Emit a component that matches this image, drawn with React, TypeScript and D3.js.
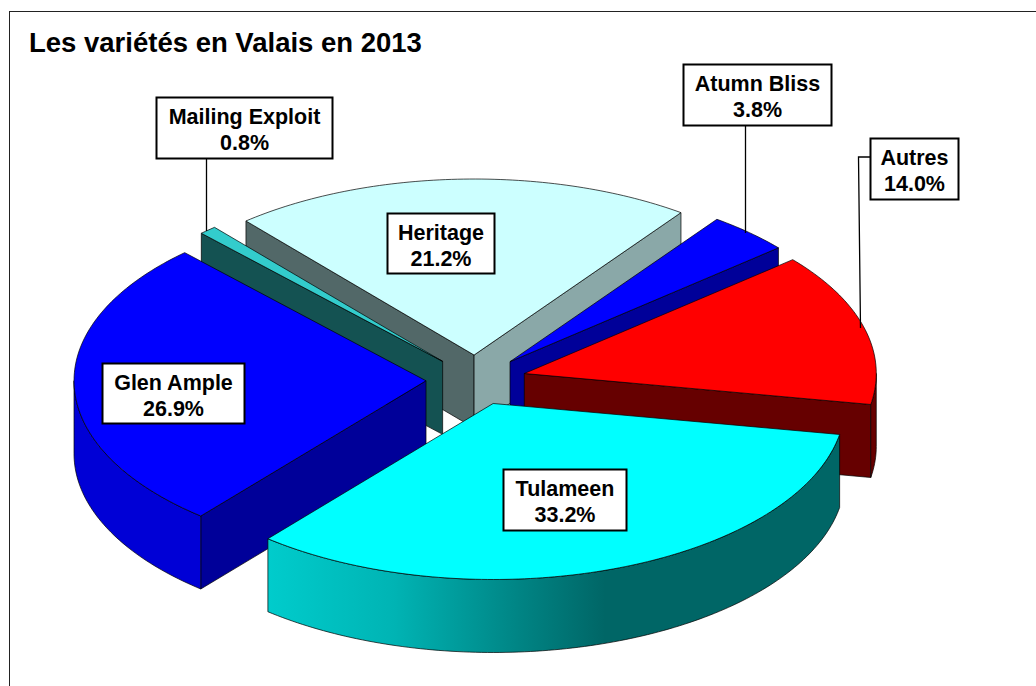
import React from "react";
import * as d3 from "d3";

const titleText = "Les variétés en Valais en 2013";
const varieties = ["Atumn Bliss", "Autres", "Tulameen", "Glen Ample", "Mailing Exploit", "Heritage"];
const shares = [3.8, 14.0, 33.2, 26.9, 0.8, 21.2];
const topColors = ["#0000ff", "#ff0000", "#00ffff", "#0000ff", "#33cccc", "#ccffff"];
const startWallColors = ["#000099", "#660000", "#006666", "#000099", "#145252", "#526868"];
const endWallColors = ["#000099", "#660000", "#006666", "#000099", "#145252", "#8aa8a8"];
const outerWallColors = ["#0000cc", "#660000", "url(#tulameenWall)", "#0000d6", "#1f9a9a", "#99cccc"];

// Outer edges of each label box: x0, y0, x1, y1 (same order as varieties)
const labelBoxes = [
  [683.5, 64.5, 831.5, 125.5],
  [870.5, 138.5, 958.5, 199.5],
  [503.5, 469.5, 626.5, 530.5],
  [102.5, 363.5, 244.5, 423.5],
  [156.5, 97.5, 332.5, 158.5],
  [387.5, 213.5, 494.5, 273.5],
];
const leaders: [number, number][][] = [
  [[745.5, 126], [745.5, 233]],
  [[870, 157], [858.5, 157], [860.5, 328]],
  [],
  [],
  [[206.5, 159], [206.5, 231]],
  [],
];

const WIDTH = 1036;
const HEIGHT = 686;
const CX = 476;
const CY = 380;
const RX = 352;
const RY = 176;
const EXPLODE = 50;
const DEPTH = 73;
const START_DEG = 36;

const rad = (d: number) => (d * Math.PI) / 180;
const line = d3.line();

function Slice({ arc, i }: { arc: d3.PieArcDatum<number>; i: number }) {
  const a0 = arc.startAngle;
  const a1 = arc.endAngle;
  const mid = (a0 + a1) / 2;
  const ox = CX + EXPLODE * Math.sin(mid);
  const oy = CY - (EXPLODE * RY * Math.cos(mid)) / RX;
  const pt = (a: number, dz = 0): [number, number] => [
    ox + RX * Math.sin(a),
    oy - RY * Math.cos(a) + dz,
  ];
  const sweep = (from: number, to: number, dz = 0) => {
    const n = Math.max(2, Math.ceil(Math.abs(to - from) / rad(1)));
    return d3.range(n + 1).map((k) => pt(from + ((to - from) * k) / n, dz));
  };
  const apex: [number, number] = [ox, oy];
  const apexLow: [number, number] = [ox, oy + DEPTH];

  const startVisible = Math.cos(a0 - Math.PI / 2) < 0;
  const endVisible = Math.cos(a1 + Math.PI / 2) < 0;
  const frontA = Math.max(a0, Math.PI / 2);
  const frontB = Math.min(a1, (3 * Math.PI) / 2);
  const hasFront = frontB > frontA;
  const stroke = { stroke: "#000", strokeWidth: 0.7, strokeLinejoin: "round" as const };

  return (
    <g>
      {startVisible && (
        <path
          d={line([apex, pt(a0), pt(a0, DEPTH), apexLow])! + "Z"}
          fill={startWallColors[i]}
          {...stroke}
        />
      )}
      {endVisible && (
        <path
          d={line([apex, pt(a1), pt(a1, DEPTH), apexLow])! + "Z"}
          fill={endWallColors[i]}
          {...stroke}
        />
      )}
      {hasFront && (
        <path
          d={line([...sweep(frontA, frontB), ...sweep(frontB, frontA, DEPTH)])! + "Z"}
          fill={outerWallColors[i]}
          {...stroke}
        />
      )}
      <path d={line([apex, ...sweep(a0, a1)])! + "Z"} fill={topColors[i]} {...stroke} />
    </g>
  );
}

export default function App() {
  const pie = d3
    .pie<number>()
    .sort(null)
    .startAngle(rad(START_DEG))
    .endAngle(rad(START_DEG + 360));
  const arcs = pie(shares);
  const order = d3
    .range(arcs.length)
    .sort(
      (a, b) =>
        -Math.cos((arcs[a].startAngle + arcs[a].endAngle) / 2) +
        Math.cos((arcs[b].startAngle + arcs[b].endAngle) / 2)
    );
  const font = "'Liberation Sans', Arial, sans-serif";

  return (
    <svg
      width={WIDTH}
      height={HEIGHT}
      style={{ position: "absolute", left: 0, top: 0, display: "block" }}
      fontFamily={font}
    >
      <defs>
        <linearGradient id="tulameenWall" x1="0" x2="1" y1="0" y2="0">
          <stop offset="0" stopColor="#00cccc" />
          <stop offset="0.22" stopColor="#00b4b4" />
          <stop offset="0.44" stopColor="#008484" />
          <stop offset="0.59" stopColor="#006666" />
          <stop offset="1" stopColor="#006666" />
        </linearGradient>
      </defs>
      <rect width={WIDTH} height={HEIGHT} fill="#fff" />
      <rect x={9.5} y={11.5} width={WIDTH + 20} height={HEIGHT + 20} fill="none" stroke="#222" strokeWidth={1} />
      <text x={29} y={52} fontSize={27.5} fontWeight="bold" fill="#000">
        {titleText}
      </text>
      {order.map((i) => (
        <Slice key={varieties[i]} arc={arcs[i]} i={i} />
      ))}
      {leaders.map(
        (pts, i) =>
          pts.length > 0 && (
            <path key={i} d={line(pts)!} fill="none" stroke="#000" strokeWidth={1.3} />
          )
      )}
      {varieties.map((name, i) => {
        const [x0, y0, x1, y1] = labelBoxes[i];
        const xc = (x0 + x1) / 2;
        return (
          <g key={name}>
            <rect x={x0} y={y0} width={x1 - x0} height={y1 - y0} fill="#fff" stroke="#000" strokeWidth={2} />
            <text x={xc} y={y0 + 26.5} textAnchor="middle" fontSize={21.5} fontWeight="bold" fill="#000">
              {name}
            </text>
            <text x={xc} y={y0 + 52} textAnchor="middle" fontSize={21.5} fontWeight="bold" fill="#000">
              {shares[i].toFixed(1)}%
            </text>
          </g>
        );
      })}
    </svg>
  );
}
